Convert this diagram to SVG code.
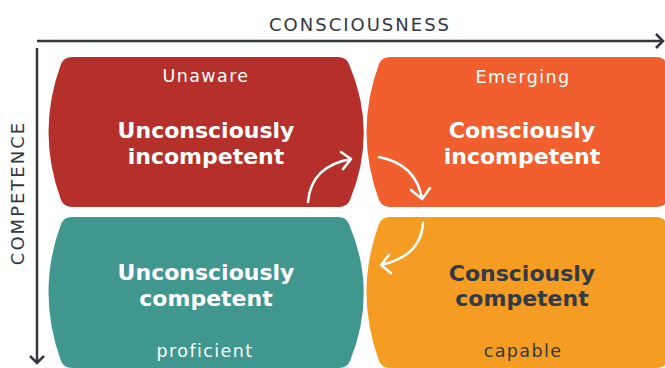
<svg xmlns="http://www.w3.org/2000/svg" width="665" height="368" viewBox="0 0 665 368">
<style>
.ax{stroke:#33373f;stroke-width:2.5;fill:none}
.axt{font-family:"DejaVu Sans","Noto Sans",sans-serif;font-size:18px;fill:#33373f;letter-spacing:2px;text-anchor:middle}
.sub{font-family:"DejaVu Sans","Noto Sans",sans-serif;font-size:17.5px;letter-spacing:1.4px;text-anchor:middle}
.main{font-family:"DejaVu Sans","Noto Sans",sans-serif;font-size:22px;font-weight:bold;text-anchor:middle}
.w{fill:#ffffff}
.d{fill:#333a45}
.arr{stroke:#ffffff;stroke-width:2.6;fill:none;stroke-linecap:round;stroke-linejoin:round}
</style>
<rect width="665" height="368" fill="#ffffff"/>
<g id="axes">
<path class="ax" d="M37,41 H663 M656,34 L663,41 L656,48"/>
<path class="ax" d="M37,48 V363 M30,356 L37,363 L44,356"/>
<text class="axt" x="360" y="31">CONSCIOUSNESS</text>
<text class="axt" transform="translate(24,193) rotate(-90)">COMPETENCE</text>
</g>
<g id="unconsciously-incompetent">
<path fill="#b5302a" d="M72,57 H338 Q346,57 349,64 Q378,132 350,200 Q347,207 339,207 H72 Q64,207 61,200 Q36,132 61,64 Q64,57 72,57 Z"/>
<text class="sub w" x="206" y="82">Unaware</text>
<text class="main w" x="206" y="138">Unconsciously</text>
<text class="main w" x="206" y="164">incompetent</text>
</g>
<g id="consciously-incompetent">
<path fill="#f15f2f" d="M390,57 H656 Q664,57 667,64 Q696,132 668,200 Q665,207 657,207 H390 Q382,207 379,200 Q354,132 379,64 Q382,57 390,57 Z"/>
<text class="sub w" x="523" y="83">Emerging</text>
<text class="main w" x="522" y="138">Consciously</text>
<text class="main w" x="522" y="164">incompetent</text>
</g>
<g id="unconsciously-competent">
<path fill="#409790" d="M72,217 H338 Q346,217 349,224 Q378,292 350,361 Q347,368 339,368 H72 Q64,368 61,361 Q36,292 61,224 Q64,217 72,217 Z"/>
<text class="main w" x="206" y="280">Unconsciously</text>
<text class="main w" x="206" y="306">competent</text>
<text class="sub w" x="205" y="357">proficient</text>
</g>
<g id="consciously-competent">
<path fill="#f59c22" d="M390,217 H656 Q664,217 667,224 Q696,292 668,361 Q665,368 657,368 H390 Q382,368 379,361 Q354,292 379,224 Q382,217 390,217 Z"/>
<text class="main d" x="522" y="281">Consciously</text>
<text class="main d" x="522" y="306">competent</text>
<text class="sub d" x="523" y="357">capable</text>
</g>
<g id="connectors">
<path class="arr" d="M308,202 Q311,166 351,159 M341,152 L351,159 L343,169"/>
<path class="arr" d="M379,157 Q416,164 422,199 M411,190 L422,199 L430,188"/>
<path class="arr" d="M423,223 Q421,256 381,265 M389,255 L381,265 L391,273"/>
</g>
</svg>
